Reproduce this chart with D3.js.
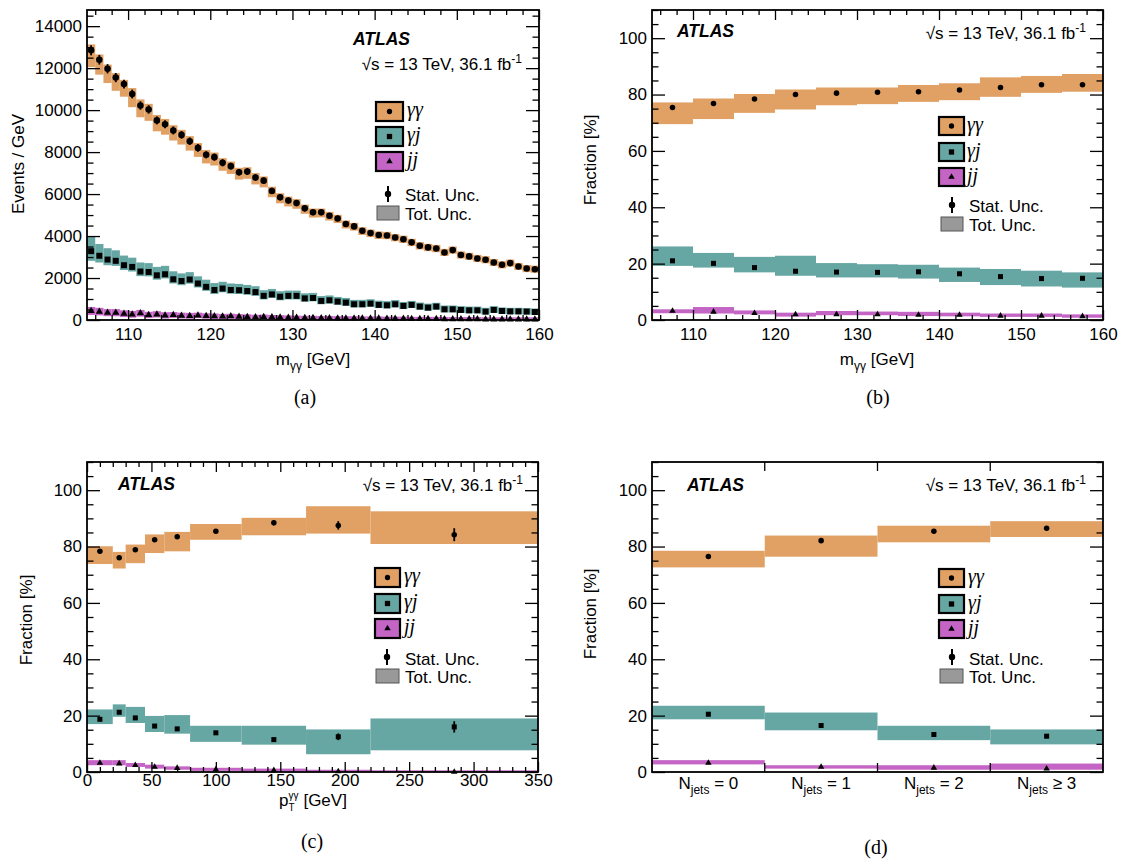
<!DOCTYPE html>
<html><head><meta charset="utf-8">
<script src="https://cdn.jsdelivr.net/npm/d3@7"></script>
<style>
body{margin:0;background:#fff;}
</style></head><body>
<svg id="c" width="1122" height="861"></svg>
<script>
// ---------------- DATA ----------------
// (a) m_gg distribution, 1 GeV bins 105-160 (Events / GeV)
const massLowA = d3.range(105, 160, 1);
const ggA = [12850,12400,11970,11550,11240,10770,10220,10030,9510,9330,
             9030,8820,8520,8200,7870,7760,7490,7330,7040,7070,
             6790,6640,6150,5850,5690,5570,5320,5130,5130,4970,
             4840,4570,4460,4250,4140,4050,4030,3930,3850,3700,
             3540,3460,3410,3220,3330,3100,3030,2930,2870,2740,
             2630,2710,2550,2450,2420];
const ggUpA = [280,250,200,210,200,280,290,270,260,250, 250,240,240,230,230,220,220,220,210,210,
               210,200,200,190,190,190,180,180,180,180, 170,170,170,170,170,170,170,170,170,170,
               170,170,170,170,170,170,170,170,170,170, 170,170,170,170,170];
const ggDnA = [800,710,680,630,600,630,560,540,520,500, 480,460,450,430,410,400,380,370,350,340,
               330,320,300,290,280,270,260,250,240,230, 220,210,200,200,190,190,180,180,180,180,
               180,180,180,170,170,170,170,170,170,170, 170,170,170,170,170];
const ggStatA = [240,230,220,220,210,210,200,200,190,190, 190,180,180,180,170,170,170,160,160,160,
                 160,150,150,150,140,140,140,140,140,130, 130,130,130,120,120,120,120,120,120,110,
                 110,110,110,110,110,110,100,100,100,100, 100,100,100,100,100];
const gjA = [3280,3060,2880,2820,2610,2530,2310,2290,2130,2180,
             1940,1860,1930,1740,1580,1430,1500,1430,1420,1380,
             1330,1150,1220,1110,1150,1150,1030,1050,910,940,
             880,830,750,750,780,720,700,750,670,720,
             640,590,640,510,510,480,460,460,400,480,
             430,410,410,400,380];
const gjUpA = [700,560,540,500,460,440,430,420,400,400, 380,360,350,340,340,330,320,310,300,290,
               280,270,260,260,250,250,240,240,230,230, 220,220,210,210,210,200,200,200,190,190,
               190,190,180,180,180,180,180,180,180,180, 170,170,170,170,170];
const gjDnA = [460,320,270,240,230,220,220,210,210,200, 200,200,200,190,190,190,180,180,180,180,
               180,170,170,170,170,170,160,160,160,160, 160,160,150,150,150,150,150,150,150,150,
               150,150,150,150,150,140,140,140,140,140, 140,140,140,140,140];
const jjA = [430,400,350,350,300,270,320,240,270,220,
             240,210,200,220,190,180,170,180,160,150,
             140,150,130,120,110,110,100,100,90,90,
             80,80,80,70,70,70,60,60,60,50,
             50,50,50,40,40,40,40,40,30,30,
             30,30,30,30,30];
const jjErrA = [190,180,170,170,160,160,160,150,150,150, 140,140,140,130,130,130,120,120,120,120,
                110,110,110,110,110,100,100,100,100,100, 100,100,100,100,100,100,100,100,100,100,
                100,100,100,100,100,100,100,100,100,100, 100,100,100,100,100];

// (b) fractions vs m_gg, 5 GeV bins
const massLowB = [105,110,115,120,125,130,135,140,145,150,155];
const ggB   = [75.4,76.8,78.4,80.0,80.5,80.8,81.0,81.6,82.5,83.5,83.5];
const ggHiB = [77.2,78.6,80.2,81.8,82.5,82.5,83.4,84.0,86.1,86.6,87.3];
const ggLoB = [69.5,71.3,73.5,74.7,76.2,76.6,77.4,78.0,79.2,80.6,81.0];
const gjB   = [21.0,20.1,18.6,17.3,17.0,16.9,17.1,16.4,15.4,14.7,14.8];
const gjHiB = [26.1,23.8,22.4,22.8,20.2,19.8,19.6,18.6,18.1,17.5,16.9];
const gjLoB = [19.2,18.6,16.9,15.7,15.1,15.1,14.7,13.5,12.4,11.9,11.5];
const jjB   = [3.2,2.9,2.4,2.0,2.0,2.0,1.8,1.8,1.5,1.5,1.3];
const jjHiB = [3.8,4.6,3.4,2.6,3.2,3.0,2.9,2.6,2.3,2.3,2.0];
const jjLoB = [2.4,2.3,2.0,1.2,1.7,1.7,1.4,1.3,1.1,1.1,0.8];

// (c) fractions vs pT_gg
const ptEdgesC = [0,20,30,45,60,80,120,170,220,350];
const ggC     = [78.3,76.0,78.9,82.4,83.5,85.4,88.4,87.5,84.2];
const ggHiC   = [80.1,78.1,80.7,84.3,85.2,88.0,90.2,94.3,92.5];
const ggLoC   = [73.8,72.2,74.1,77.7,78.3,82.4,84.0,84.6,80.9];
const ggStatC = [0.5,0.5,0.5,0.5,0.6,0.6,0.8,1.5,2.3];
const gjC     = [18.7,21.2,19.2,16.3,15.3,13.9,11.5,12.5,16.0];
const gjHiC   = [22.2,24.0,23.1,19.9,20.2,16.4,16.4,15.1,19.0];
const gjLoC   = [17.0,19.6,17.4,14.2,13.6,10.7,9.7,6.3,7.7];
const gjStatC = [0.4,0.4,0.4,0.4,0.5,0.5,0.7,1.2,2.0];
const jjC     = [3.2,3.0,2.4,1.8,1.4,0.9,0.6,0.2,0.0];
const jjHiC   = [4.2,4.2,3.2,2.6,2.0,1.5,1.2,0.8,0.6];
const jjLoC   = [2.4,2.4,1.8,1.2,0.8,0.4,0.2,0.0,0.0];

// (d) fractions vs N_jets
const jetCatsD = ["= 0","= 1","= 2","\u2265 3"];
const ggD   = [76.5,82.1,85.4,86.5];
const ggHiD = [78.5,83.9,87.4,89.0];
const ggLoD = [72.6,76.4,81.5,83.4];
const gjD   = [20.5,16.5,13.3,12.7];
const gjHiD = [23.5,21.1,16.4,15.1];
const gjLoD = [18.7,14.8,11.3,9.8];
const jjD   = [3.2,1.8,1.5,1.2];
const jjHiD = [4.2,2.4,2.4,3.0];
const jjLoD = [2.7,1.2,0.8,0.8];

// tick labels
const massTicks = [110,120,130,140,150,160];
const eventTicks = [0,2000,4000,6000,8000,10000,12000,14000];
const fracTicks = [0,20,40,60,80,100];
const ptTicks = [0,50,100,150,200,250,300,350];

// ---------------- STYLE ----------------
const SANS = '"Liberation Sans", Arial, Helvetica, sans-serif';
const SERIF = '"Liberation Serif", "Times New Roman", serif';
const C_GG = "#e1a064", C_GJ = "#66a6a3", C_JJ = "#c465c5";
const svg = d3.select("#c");

const frA = {l:87, r:539, t:10, b:320};
const frB = {l:652, r:1103, t:10, b:320};
const frC = {l:87, r:538, t:462, b:772};
const frD = {l:652, r:1103, t:462, b:772};

function styleAxis(sel, fs) {
  sel.select(".domain").remove();
  sel.selectAll("line").attr("stroke","#000").attr("stroke-width",1.3);
  sel.selectAll("text").attr("font-family",SANS).attr("font-size",fs||17).attr("fill","#000");
}

function yAxes(g, fr, y, major, minor) {
  const minorOnly = minor.filter(v => !major.includes(v));
  g.append("g").attr("transform",`translate(${fr.l},0)`)
    .call(d3.axisLeft(y).tickValues(major).tickSize(-13).tickSizeOuter(0).tickPadding(5).tickFormat(d3.format("d")))
    .call(s => styleAxis(s));
  g.append("g").attr("transform",`translate(${fr.l},0)`)
    .call(d3.axisLeft(y).tickValues(minorOnly).tickSize(-6.5).tickSizeOuter(0).tickFormat(""))
    .call(s => styleAxis(s));
  g.append("g").attr("transform",`translate(${fr.r},0)`)
    .call(d3.axisRight(y).tickValues(major).tickSize(-13).tickSizeOuter(0).tickFormat(""))
    .call(s => styleAxis(s));
  g.append("g").attr("transform",`translate(${fr.r},0)`)
    .call(d3.axisRight(y).tickValues(minorOnly).tickSize(-6.5).tickSizeOuter(0).tickFormat(""))
    .call(s => styleAxis(s));
}

function xAxes(g, fr, x, major, minor, pad) {
  const minorOnly = minor.filter(v => !major.includes(v));
  g.append("g").attr("transform",`translate(0,${fr.b})`)
    .call(d3.axisBottom(x).tickValues(major).tickSize(-10).tickSizeOuter(0).tickPadding(pad).tickFormat(d3.format("d")))
    .call(s => styleAxis(s));
  g.append("g").attr("transform",`translate(0,${fr.b})`)
    .call(d3.axisBottom(x).tickValues(minorOnly).tickSize(-5).tickSizeOuter(0).tickFormat(""))
    .call(s => styleAxis(s));
  g.append("g").attr("transform",`translate(0,${fr.t})`)
    .call(d3.axisTop(x).tickValues(major).tickSize(-10).tickSizeOuter(0).tickFormat(""))
    .call(s => styleAxis(s));
  g.append("g").attr("transform",`translate(0,${fr.t})`)
    .call(d3.axisTop(x).tickValues(minorOnly).tickSize(-5).tickSizeOuter(0).tickFormat(""))
    .call(s => styleAxis(s));
}

function frame(g, fr) {
  g.append("rect").attr("x",fr.l).attr("y",fr.t).attr("width",fr.r-fr.l).attr("height",fr.b-fr.t)
    .attr("fill","none").attr("stroke","#000").attr("stroke-width",1.8);
}

function drawBands(g, px0, px1, y, s) {
  g.append("g").selectAll("rect").data(d3.range(s.vals.length)).join("rect")
    .attr("x", i => px0(i)).attr("width", i => px1(i) - px0(i))
    .attr("y", i => y(s.hi[i])).attr("height", i => Math.max(0.8, y(s.lo[i]) - y(s.hi[i])))
    .attr("fill", s.color);
}
function drawMarkers(g, pxc, y, s, msz) {
  const idx = d3.range(s.vals.length);
  if (s.stat) {
    g.append("g").selectAll("line").data(idx).join("line")
      .attr("x1", i => pxc(i)).attr("x2", i => pxc(i))
      .attr("y1", i => y(s.vals[i] + s.stat[i])).attr("y2", i => y(Math.max(0, s.vals[i] - s.stat[i])))
      .attr("stroke","#000").attr("stroke-width",1.8);
  }
  const sym = d3.symbol().type(s.shape).size(s.shape === d3.symbolTriangle ? msz*0.75 : (s.shape === d3.symbolSquare ? msz*1.05 : msz));
  g.append("g").selectAll("path").data(idx).join("path")
    .attr("d", sym)
    .attr("transform", i => `translate(${pxc(i)},${y(s.vals[i])})`)
    .attr("fill","#000");
}

function legend(g, L) {
  const items = [
    {c:C_GG, shape:d3.symbolCircle, t:"\u03b3\u03b3", sz:22},
    {c:C_GJ, shape:d3.symbolSquare, t:"\u03b3j", sz:28},
    {c:C_JJ, shape:d3.symbolTriangle, t:"jj", sz:18}
  ];
  items.forEach((it, k) => {
    const top = L.tops[k];
    g.append("rect").attr("x",L.bx).attr("y",top).attr("width",L.bw).attr("height",L.bh)
      .attr("fill",it.c).attr("stroke","#000").attr("stroke-width",2.2);
    g.append("path").attr("d", d3.symbol().type(it.shape).size(it.sz)())
      .attr("transform",`translate(${L.bx+L.bw/2},${top+L.bh/2})`).attr("fill","#000");
    g.append("text").attr("x",L.tx).attr("y",top+L.bh/2+4.5)
      .attr("font-family",SERIF).attr("font-style","italic").attr("font-size",20).text(it.t);
  });
  g.append("line").attr("x1",L.sx).attr("x2",L.sx).attr("y1",L.sy-8).attr("y2",L.sy+8)
    .attr("stroke","#000").attr("stroke-width",2);
  g.append("circle").attr("cx",L.sx).attr("cy",L.sy).attr("r",3.2).attr("fill","#000");
  g.append("text").attr("x",L.tx2).attr("y",L.sb).attr("font-family",SANS).attr("font-size",17).text("Stat. Unc.");
  g.append("rect").attr("x",L.tb[0]).attr("y",L.tb[1]).attr("width",L.tb[2]).attr("height",L.tb[3])
    .attr("fill","#999").attr("stroke","#555").attr("stroke-width",1);
  g.append("text").attr("x",L.tx2).attr("y",L.tbb).attr("font-family",SANS).attr("font-size",17).text("Tot. Unc.");
}

function atlasLabel(g, ax, ay, sx, sy) {
  g.append("text").attr("x",ax).attr("y",ay).attr("font-family",SANS).attr("font-weight","bold")
    .attr("font-style","italic").attr("font-size",17.5).text("ATLAS");
  const t = g.append("text").attr("x",sx).attr("y",sy).attr("text-anchor","end")
    .attr("font-family",SANS).attr("font-size",17);
  t.append("tspan").text("\u221As = 13 TeV, 36.1 fb");
  t.append("tspan").attr("font-size",12).attr("dy",-7).text("-1");
}

function yTitle(g, x, y, txt) {
  g.append("text").attr("transform",`translate(${x},${y}) rotate(-90)`).attr("text-anchor","middle")
    .attr("font-family",SANS).attr("font-size",17).text(txt);
}
function massTitle(g, x, y) {
  const t = g.append("text").attr("x",x).attr("y",y).attr("text-anchor","middle")
    .attr("font-family",SANS).attr("font-size",17);
  t.append("tspan").text("m");
  t.append("tspan").attr("font-size",12).attr("dy",5).text("\u03b3\u03b3");
  t.append("tspan").attr("dy",-5).text(" [GeV]");
}
function panelLabel(g, x, y, txt) {
  g.append("text").attr("x",x).attr("y",y).attr("text-anchor","middle")
    .attr("font-family",SERIF).attr("font-size",20).text(txt);
}

// ================= PANEL (a) =================
{
  const g = svg.append("g");
  const x = d3.scaleLinear([105,160],[frA.l,frA.r]);
  const y = d3.scaleLinear([0,14770],[frA.b,frA.t]);
  const px0 = i => x(massLowA[i]), px1 = i => x(massLowA[i]+1), pxc = i => x(massLowA[i]+0.5);
  const sGG = {vals:ggA, hi:ggA.map((v,i)=>v+ggUpA[i]), lo:ggA.map((v,i)=>v-ggDnA[i]), stat:ggStatA, color:C_GG, shape:d3.symbolCircle};
  const sGJ = {vals:gjA, hi:gjA.map((v,i)=>v+gjUpA[i]), lo:gjA.map((v,i)=>v-gjDnA[i]), color:C_GJ, shape:d3.symbolSquare};
  const sJJ = {vals:jjA, hi:jjA.map((v,i)=>v+jjErrA[i]), lo:jjA.map((v,i)=>Math.max(0,v-jjErrA[i])), color:C_JJ, shape:d3.symbolTriangle};
  [sGG,sGJ,sJJ].forEach(s => drawBands(g, px0, px1, y, s));
  drawMarkers(g, pxc, y, sGG, 34);
  drawMarkers(g, pxc, y, sGJ, 34);
  drawMarkers(g, pxc, y, sJJ, 30);
  yAxes(g, frA, y, eventTicks, d3.range(0,14771,500));
  xAxes(g, frA, x, massTicks, d3.range(106,161,2), 8);
  frame(g, frA);
  atlasLabel(g, 353, 45, 522, 70);
  legend(g, {bx:376, bw:27, bh:19, tops:[102,127,152], tx:407, sx:388, sy:194, tx2:405, sb:201,
             tb:[377,206,22,14], tbb:220});
  yTitle(g, 24, 164, "Events / GeV");
  massTitle(g, 313, 365);
  panelLabel(g, 305, 404, "(a)");
}

// ================= PANEL (b) =================
{
  const g = svg.append("g");
  const x = d3.scaleLinear([105,160],[frB.l,frB.r]);
  const y = d3.scaleLinear([0,110],[frB.b,frB.t]);
  const px0 = i => x(massLowB[i]), px1 = i => x(massLowB[i]+5), pxc = i => x(massLowB[i]+2.5);
  const sGG = {vals:ggB, hi:ggHiB, lo:ggLoB, color:C_GG, shape:d3.symbolCircle};
  const sGJ = {vals:gjB, hi:gjHiB, lo:gjLoB, color:C_GJ, shape:d3.symbolSquare};
  const sJJ = {vals:jjB, hi:jjHiB, lo:jjLoB, color:C_JJ, shape:d3.symbolTriangle};
  [sGG,sGJ,sJJ].forEach(s => drawBands(g, px0, px1, y, s));
  [sGG,sGJ,sJJ].forEach(s => drawMarkers(g, pxc, y, s, 24));
  yAxes(g, frB, y, fracTicks, d3.range(0,111,5));
  xAxes(g, frB, x, massTicks, d3.range(106,161,2), 8);
  frame(g, frB);
  atlasLabel(g, 677, 37, 1086, 39);
  legend(g, {bx:939, bw:25, bh:18, tops:[117,143,168], tx:967, sx:952, sy:205, tx2:969, sb:212,
             tb:[941,217,22,14], tbb:231});
  yTitle(g, 596, 160, "Fraction [%]");
  massTitle(g, 877, 365);
  panelLabel(g, 878, 404, "(b)");
}

// ================= PANEL (c) =================
{
  const g = svg.append("g");
  const x = d3.scaleLinear([0,350],[frC.l,frC.r]);
  const y = d3.scaleLinear([0,110],[frC.b,frC.t]);
  const px0 = i => x(ptEdgesC[i]), px1 = i => x(ptEdgesC[i+1]), pxc = i => x((ptEdgesC[i]+ptEdgesC[i+1])/2);
  const sGG = {vals:ggC, hi:ggHiC, lo:ggLoC, stat:ggStatC, color:C_GG, shape:d3.symbolCircle};
  const sGJ = {vals:gjC, hi:gjHiC, lo:gjLoC, stat:gjStatC, color:C_GJ, shape:d3.symbolSquare};
  const sJJ = {vals:jjC, hi:jjHiC, lo:jjLoC, color:C_JJ, shape:d3.symbolTriangle};
  [sGG,sGJ,sJJ].forEach(s => drawBands(g, px0, px1, y, s));
  [sGG,sGJ,sJJ].forEach(s => drawMarkers(g, pxc, y, s, 24));
  yAxes(g, frC, y, fracTicks, d3.range(0,111,5));
  xAxes(g, frC, x, ptTicks, d3.range(0,351,10), 2);
  frame(g, frC);
  atlasLabel(g, 118, 490, 523, 491);
  legend(g, {bx:375, bw:25, bh:19, tops:[568,594,619], tx:404, sx:387, sy:657, tx2:405, sb:665,
             tb:[376,669,23,14], tbb:683});
  yTitle(g, 32, 620, "Fraction [%]");
  // p_T^gg [GeV]
  const tmp = g.append("text").attr("font-family",SANS).attr("font-size",10).text("\u03b3\u03b3");
  const supW = tmp.node().getComputedTextLength(); tmp.remove();
  const t = g.append("text").attr("x",313).attr("y",806).attr("text-anchor","middle")
    .attr("font-family",SANS).attr("font-size",17);
  t.append("tspan").text("p");
  t.append("tspan").attr("font-size",10).attr("dy",-7).text("\u03b3\u03b3");
  t.append("tspan").attr("font-size",10).attr("dx",-supW).attr("dy",12).text("T");
  t.append("tspan").attr("dx",supW-6).attr("dy",-5).text(" [GeV]");
  panelLabel(g, 312, 848, "(c)");
}

// ================= PANEL (d) =================
{
  const g = svg.append("g");
  const x = d3.scaleBand(jetCatsD,[frD.l,frD.r]).padding(0);
  const y = d3.scaleLinear([0,110],[frD.b,frD.t]);
  const px0 = i => x(jetCatsD[i]), px1 = i => x(jetCatsD[i]) + x.bandwidth(), pxc = i => x(jetCatsD[i]) + x.bandwidth()/2;
  const sGG = {vals:ggD, hi:ggHiD, lo:ggLoD, color:C_GG, shape:d3.symbolCircle};
  const sGJ = {vals:gjD, hi:gjHiD, lo:gjLoD, color:C_GJ, shape:d3.symbolSquare};
  const sJJ = {vals:jjD, hi:jjHiD, lo:jjLoD, color:C_JJ, shape:d3.symbolTriangle};
  [sGG,sGJ,sJJ].forEach(s => drawBands(g, px0, px1, y, s));
  [sGG,sGJ,sJJ].forEach(s => drawMarkers(g, pxc, y, s, 24));
  yAxes(g, frD, y, fracTicks, d3.range(0,111,5));
  const inner = jetCatsD.slice(1).map(c => x(c));
  inner.forEach(px => {
    g.append("line").attr("x1",px).attr("x2",px).attr("y1",frD.b).attr("y2",frD.b-9).attr("stroke","#000").attr("stroke-width",1.3);
    g.append("line").attr("x1",px).attr("x2",px).attr("y1",frD.t).attr("y2",frD.t+9).attr("stroke","#000").attr("stroke-width",1.3);
  });
  jetCatsD.forEach((c,i) => {
    const t = g.append("text").attr("x",pxc(i)).attr("y",789).attr("text-anchor","middle")
      .attr("font-family",SANS).attr("font-size",17);
    t.append("tspan").text("N");
    t.append("tspan").attr("font-size",12).attr("dy",5).text("jets");
    t.append("tspan").attr("dy",-5).text(" " + c);
  });
  frame(g, frD);
  atlasLabel(g, 687, 491, 1086, 491);
  legend(g, {bx:939, bw:25, bh:18, tops:[569,595,620], tx:968, sx:952, sy:657, tx2:969, sb:665,
             tb:[940,669,23,14], tbb:683});
  yTitle(g, 596, 614, "Fraction [%]");
  panelLabel(g, 876, 854, "(d)");
}
</script>
</body></html>
